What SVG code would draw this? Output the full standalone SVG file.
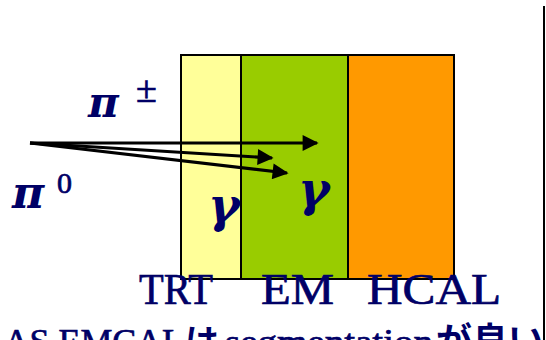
<svg xmlns="http://www.w3.org/2000/svg" width="546" height="340" viewBox="0 0 546 340">
<style>
.lbl{font-family:"Liberation Serif","Times New Roman",serif;fill:#000066;stroke:#000066;stroke-width:0.7}
.greek{font-family:"DejaVu Serif","Liberation Serif",serif;font-weight:bold;font-style:italic;fill:#000066}
.det{stroke:#000;stroke-width:2}
.arr{stroke:#000;stroke-width:3.2;fill:none}
</style>
<defs>
<marker id="ah" viewBox="0 0 10 10" refX="9" refY="5" markerWidth="5.4" markerHeight="5" orient="auto" markerUnits="strokeWidth">
<path d="M0,0 L10,5 L0,10 z" fill="#000"/>
</marker>
</defs>
<rect width="546" height="340" fill="#fff"/>
<line x1="544" y1="6" x2="544" y2="340" stroke="#000" stroke-width="2"/>
<g id="TRT"><rect x="181" y="55" width="60" height="224" fill="#FFFF99" class="det"/></g>
<g id="EM"><rect x="241" y="55" width="107" height="224" fill="#99CC00" class="det"/></g>
<g id="HCAL"><rect x="348" y="55" width="106" height="224" fill="#FF9900" class="det"/></g>
<g id="connectors">
<line x1="30" y1="143" x2="317" y2="143" class="arr" marker-end="url(#ah)"/>
<line x1="30" y1="143" x2="272" y2="158" class="arr" marker-end="url(#ah)"/>
<line x1="30" y1="143" x2="287" y2="173" class="arr" marker-end="url(#ah)"/>
</g>
<g id="labels">
<text class="greek" x="88" y="117" font-size="42">π</text>
<text class="lbl" x="136" y="102" font-size="38" stroke-width="0">±</text>
<text class="greek" x="12" y="208" font-size="44">π</text>
<text class="lbl" x="57" y="193" font-size="30" stroke-width="0">0</text>
<text class="greek" x="208" y="222" font-size="48">γ</text>
<text class="greek" x="298" y="206" font-size="48">γ</text>
<text class="lbl" x="139" y="304" font-size="44" textLength="74" lengthAdjust="spacingAndGlyphs">TRT</text>
<text class="lbl" x="261" y="304" font-size="44" textLength="73" lengthAdjust="spacingAndGlyphs">EM</text>
<text class="lbl" x="367" y="304" font-size="44" textLength="134" lengthAdjust="spacingAndGlyphs">HCAL</text>
<text class="lbl" y="354" font-size="36"><tspan x="-62" textLength="246" lengthAdjust="spacingAndGlyphs">ATLAS EMCAL</tspan><tspan x="185" font-family="'Noto Sans CJK JP',sans-serif" stroke-width="0" font-weight="bold" font-size="34">は</tspan><tspan x="225" textLength="208" lengthAdjust="spacingAndGlyphs">segmentation</tspan><tspan x="436" font-family="'Noto Sans CJK JP',sans-serif" stroke-width="0" font-weight="bold">が良い</tspan></text>
</g>
</svg>
